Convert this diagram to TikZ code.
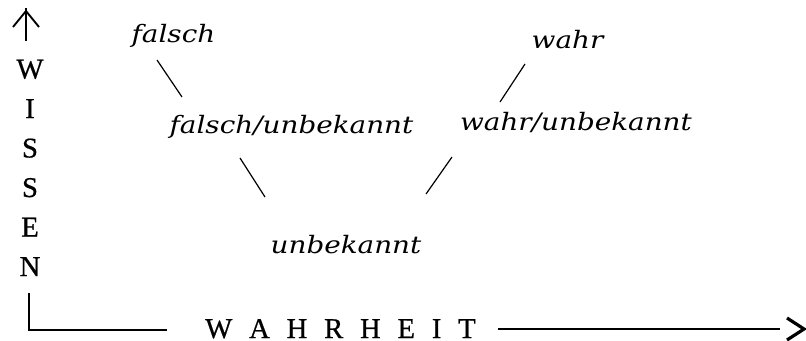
\documentclass[tikz,border=0pt]{standalone}
\usepackage{fontspec}
\setmainfont{Liberation Serif}
\newfontfamily\labelfont[FakeStretch=1.16]{DejaVu Serif}
\newfontfamily\axisfont[FakeBold=0.6]{Liberation Serif}
\newlength\axisgap
\setlength\axisgap{12.6pt}
\tikzset{
  state/.style={font=\labelfont\itshape\fontsize{18}{20}\selectfont, inner sep=0pt, anchor=base},
  axisletter/.style={font=\axisfont\fontsize{21.5}{23}\selectfont, inner sep=0pt, text depth=0pt, anchor=base},
  link/.style={line width=0.9pt},
  axis/.style={line width=2.2pt},
}
\begin{document}
\begin{tikzpicture}[x=0.75pt, y=-0.75pt]
\useasboundingbox (0,0) rectangle (806,340);

% states of knowledge about truth
\node[state] (f)  at (173.5,42)  {falsch};
\node[state] (fu) at (291.5,133) {falsch/unbekannt};
\node[state] (w)  at (567.5,48)  {wahr};
\node[state] (wu) at (576,130)   {wahr/unbekannt};
\node[state] (u)  at (346,253)   {unbekannt};

% short connectors between the states
\coordinate (f-a)  at (157,60);   \coordinate (f-b)  at (182,97);
\coordinate (fu-a) at (240,158);  \coordinate (fu-b) at (265,197);
\coordinate (wu-a) at (452,157);  \coordinate (wu-b) at (426,194);
\coordinate (w-a)  at (525,64);   \coordinate (w-b)  at (500,102);
\draw[link] (f-a) -- (f-b);
\draw[link] (fu-a) -- (fu-b);
\draw[link] (wu-a) -- (wu-b);
\draw[link] (w-a) -- (w-b);

% vertical axis: WISSEN
\coordinate (up-tip) at (26,11);
\coordinate (up-foot) at (26,41);
\draw[line width=2.2pt] (up-foot) -- ([yshift=2]up-tip);
\draw[line width=1.4pt, line join=miter] (13,27) -- (up-tip) -- (39,27);
\foreach \ch [count=\i from 0] in {W,I,S,S,E,N}
  \node[axisletter] (v\i) at (30,78.5+39.5*\i) {\ch};

% horizontal axis: WAHRHEIT
\coordinate (corner-top) at (29,293);
\coordinate (corner) at (29,330);
\coordinate (left-end) at (167,330);
\draw[axis] (corner-top) -- (corner) -- (left-end);
\node[axisletter, anchor=base west] (wahrheit) at (205,338)
  {W\hspace{\axisgap}A\hspace{\axisgap}H\hspace{\axisgap}R\hspace{\axisgap}H\hspace{\axisgap}E\hspace{\axisgap}I\hspace{\axisgap}T};
\coordinate (right-start) at (498,329);
\coordinate (right-end) at (780,329);
\coordinate (right-tip) at (804,329);
\draw[axis] (right-start) -- (right-end);
\draw[line width=2.4pt, line join=miter] (787,318) -- (right-tip) -- (787,340);
\end{tikzpicture}
\end{document}
